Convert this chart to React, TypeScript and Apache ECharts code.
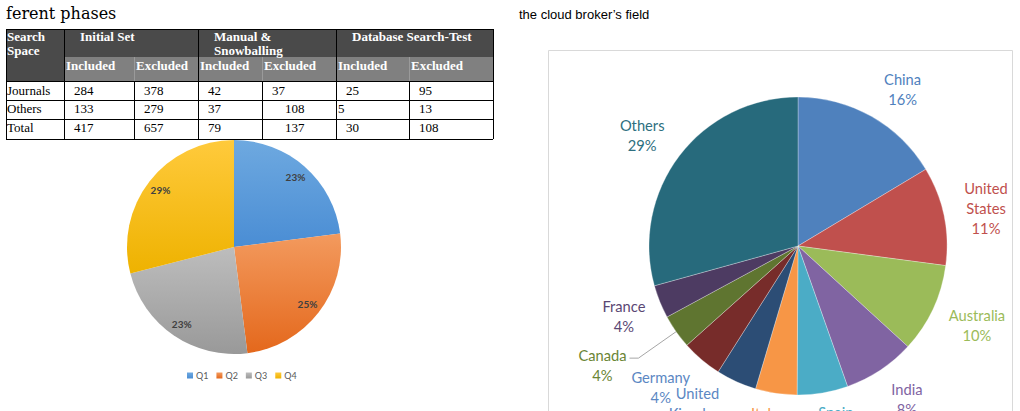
import { useEffect, useRef } from "react";
import * as echarts from "echarts";

// ---------- data ----------
const quarterNames = ["Q1", "Q2", "Q3", "Q4"];
const quarterShares = [23, 25, 23, 29];

const countryNames = [
  "China", "United States", "Australia", "India", "Spain", "Italy",
  "United Kingdom", "Germany", "Canada", "France", "Others",
];
const countryShares = [16.4, 10.7, 9.7, 7.8, 5.5, 4.5, 4.4, 4.4, 3.7, 3.6, 29.3];

const headCorner = "Search\nSpace";
const tableGroups = ["Initial Set", "Manual &\nSnowballing", "Database Search-Test"];
const tableSubHeads = ["Included", "Excluded", "Included", "Excluded", "Included", "Excluded"];
const rowLabels = ["Journals", "Others", "Total"];
const journalsRow = [284, 378, 42, 37, 25, 95];
const othersRow = [133, 279, 37, 108, 5, 13];
const totalRow = [417, 657, 79, 137, 30, 108];

const captionLeft = "ferent phases";
const captionRight = "the cloud broker\u2019s field";

// ---------- styles ----------
const quarterGrad = [
  ["#6ea9e0", "#4a8dd4"],
  ["#f39a5e", "#e4681c"],
  ["#bdbdbd", "#999999"],
  ["#ffca3c", "#eeb200"],
];
const countryColors = [
  "#4f81bd", "#c0504d", "#9bbb59", "#8064a2", "#4bacc6", "#f79646",
  "#2c4d75", "#772c2a", "#5f7530", "#4d3b62", "#276a7c",
];
const countryLabelColors = [
  "#4f81bd", "#c0504d", "#9bbb59", "#8064a2", "#4bacc6", "#f79646",
  "#5b87c3", "#5b87c3", "#6a8535", "#5a4773", "#2e6f80",
];
const labelNudges = [
  [10, 10], [0, 1], [5, -2], [3, -7], [6, -13], [-5, -13],
  [-21, -8], [-13, -5], [0, 0], [4, -2], [-3, 5],
];

function buildTable() {
  const els: any[] = [];
  const cols = [6, 64, 134, 198, 262, 336, 409, 493];
  const top = 29, h1 = 57, h2 = 81;
  const rowLines = [81, 100, 119, 139];
  const serif = "Liberation Serif";
  const rows = [journalsRow, othersRow, totalRow];

  els.push({ type: "rect", shape: { x: cols[0], y: top, width: cols[7] - cols[0], height: h1 - top }, style: { fill: "#4a4a4a" } });
  els.push({ type: "rect", shape: { x: cols[0], y: h1, width: cols[1] - cols[0], height: h2 - h1 }, style: { fill: "#4a4a4a" } });
  els.push({ type: "rect", shape: { x: cols[1], y: h1, width: cols[7] - cols[1], height: h2 - h1 }, style: { fill: "#808080" } });

  rowLines.forEach((y) => {
    els.push({ type: "line", shape: { x1: cols[0], y1: y + 0.5, x2: cols[7], y2: y + 0.5 }, style: { stroke: "#000", lineWidth: 1 } });
  });
  els.push({ type: "line", shape: { x1: cols[0], y1: top + 0.5, x2: cols[7], y2: top + 0.5 }, style: { stroke: "#000", lineWidth: 1 } });
  [0, 1, 3, 5, 7].forEach((i) => {
    els.push({ type: "line", shape: { x1: cols[i] + 0.5, y1: top, x2: cols[i] + 0.5, y2: 139 }, style: { stroke: "#000", lineWidth: 1 } });
  });
  [2, 4, 6].forEach((i) => {
    els.push({ type: "line", shape: { x1: cols[i] + 0.5, y1: h2, x2: cols[i] + 0.5, y2: 139 }, style: { stroke: "#000", lineWidth: 1 } });
    els.push({ type: "line", shape: { x1: cols[i] + 0.5, y1: h1, x2: cols[i] + 0.5, y2: h2 }, style: { stroke: "#9a9a9a", lineWidth: 1 } });
  });

  const txt = (text: string, x: number, y: number, bold: boolean, fill: string) => ({
    type: "text",
    x,
    y,
    style: {
      text,
      fill,
      fontFamily: serif,
      fontSize: 13,
      fontWeight: bold ? "bold" : "normal",
      lineHeight: 14,
      align: "left",
      verticalAlign: "top",
    },
  });

  els.push(txt(headCorner, cols[0] + 1, 29, true, "#fff"));
  tableGroups.forEach((g, i) => {
    els.push(txt(g, cols[1 + i * 2] + 16, 29, true, "#fff"));
  });
  tableSubHeads.forEach((s, i) => {
    els.push(txt(s, cols[1 + i] + 2, 58, true, "#fff"));
  });
  const rowY = [83, 101, 120];
  const shift: Record<string, number> = { "1-3": 13, "2-3": 13, "1-4": -8 };
  rows.forEach((r, ri) => {
    els.push(txt(rowLabels[ri], cols[0] + 1, rowY[ri], false, "#000"));
    r.forEach((v, ci) => {
      const dx = shift[`${ri}-${ci}`] || 0;
      els.push(txt(String(v), cols[1 + ci] + 10 + dx, rowY[ri], false, "#000"));
    });
  });
  return els;
}

export default function App() {
  const ref = useRef<HTMLDivElement>(null);
  useEffect(() => {
    const chart = echarts.init(ref.current!, null, { renderer: "svg" });

    const quarterData = quarterNames.map((n, i) => ({
      name: n,
      value: quarterShares[i],
      itemStyle: {
        color: new echarts.graphic.LinearGradient(0, 0, 0, 1, [
          { offset: 0, color: quarterGrad[i][0] },
          { offset: 1, color: quarterGrad[i][1] },
        ]),
      },
    }));

    const countryMain = countryNames.map((n, i) => {
      const item: any = { name: n, value: countryShares[i], itemStyle: { color: countryColors[i] } };
      if (n === "Canada") {
        const st = { width: 44, align: "center", fontFamily: "Lato", fontSize: 14.7, lineHeight: 20, color: countryLabelColors[i] };
        item.label = {
          show: true,
          position: "outside",
          formatter: (p: any) => `{e| }\n{c|${p.name}}\n{c|${p.percent}%}`,
          rich: {
            e: { ...st, lineHeight: 14, height: 14 },
            c: st,
          },
        };
        item.labelLine = { show: true, length: 46, length2: 9, lineStyle: { color: "#a6a6a6", width: 1 } };
      }
      return item;
    });

    const countryLabels = countryNames.map((n, i) => ({
      name: n,
      value: countryShares[i],
      label: { show: n !== "Canada", color: countryLabelColors[i] },
    }));

    chart.setOption({
      animation: false,
      graphic: [
        ...buildTable(),
        {
          type: "text",
          x: 6,
          y: 13,
          style: { text: captionLeft, fill: "#000", fontFamily: "DejaVu Serif", fontSize: 16, verticalAlign: "middle" },
        },
        {
          type: "text",
          x: 519,
          y: 14,
          style: { text: captionRight, fill: "#000", fontFamily: "Liberation Sans", fontSize: 13, verticalAlign: "middle" },
        },
        {
          type: "rect",
          shape: { x: 548.5, y: 50.5, width: 464, height: 420 },
          style: { fill: "none", stroke: "#d9d9d9", lineWidth: 1 },
        },
      ],
      legend: {
        data: quarterNames,
        left: 182,
        top: 366,
        icon: "rect",
        itemWidth: 6,
        itemHeight: 6,
        itemGap: 8,
        selectedMode: false,
        textStyle: { fontFamily: "Lato", fontSize: 9, color: "#595959", padding: [0, 0, 0, -2] },
      },
      series: [
        {
          type: "pie",
          center: [234, 247],
          radius: [0, 107],
          startAngle: 90,
          clockwise: true,
          silent: true,
          label: { show: false },
          labelLine: { show: false },
          data: quarterData,
        },
        {
          type: "pie",
          center: [234, 247],
          radius: [73, 107],
          startAngle: 90,
          clockwise: true,
          silent: true,
          percentPrecision: 0,
          itemStyle: { color: "transparent" },
          label: {
            show: true,
            position: "inside",
            formatter: "{d}%",
            fontFamily: "Lato",
            fontWeight: "bold",
            fontSize: 10,
            color: "#404040",
          },
          labelLine: { show: false },
          emphasis: { disabled: true },
          data: quarterNames.map((n, i) => ({ name: n, value: quarterShares[i] })),
        },
        {
          type: "pie",
          center: [798, 246],
          radius: [0, 149],
          startAngle: 90,
          clockwise: true,
          silent: true,
          percentPrecision: 0,
          avoidLabelOverlap: false,
          label: { show: false },
          labelLine: { show: false },
          itemStyle: { borderColor: "#ffffff", borderWidth: 0.3 },
          data: countryMain,
        },
        {
          type: "pie",
          center: [798, 246],
          radius: [149, 229],
          startAngle: 90,
          clockwise: true,
          silent: true,
          percentPrecision: 0,
          avoidLabelOverlap: false,
          itemStyle: { color: "transparent" },
          label: {
            show: true,
            position: "inside",
            formatter: (p: any) => `${p.name.replace(" ", "\n")}\n${p.percent}%`,
            fontFamily: "Lato",
            fontSize: 14.7,
            lineHeight: 20,
          },
          labelLayout: (p: any) => ({ dx: labelNudges[p.dataIndex][0], dy: labelNudges[p.dataIndex][1] }),
          labelLine: { show: false },
          emphasis: { disabled: true },
          data: countryLabels,
        },
      ],
    });
    return () => chart.dispose();
  }, []);
  return (
    <div
      ref={ref}
      style={{ position: "fixed", left: 0, top: 0, width: 1020, height: 411, background: "#fff" }}
    />
  );
}
